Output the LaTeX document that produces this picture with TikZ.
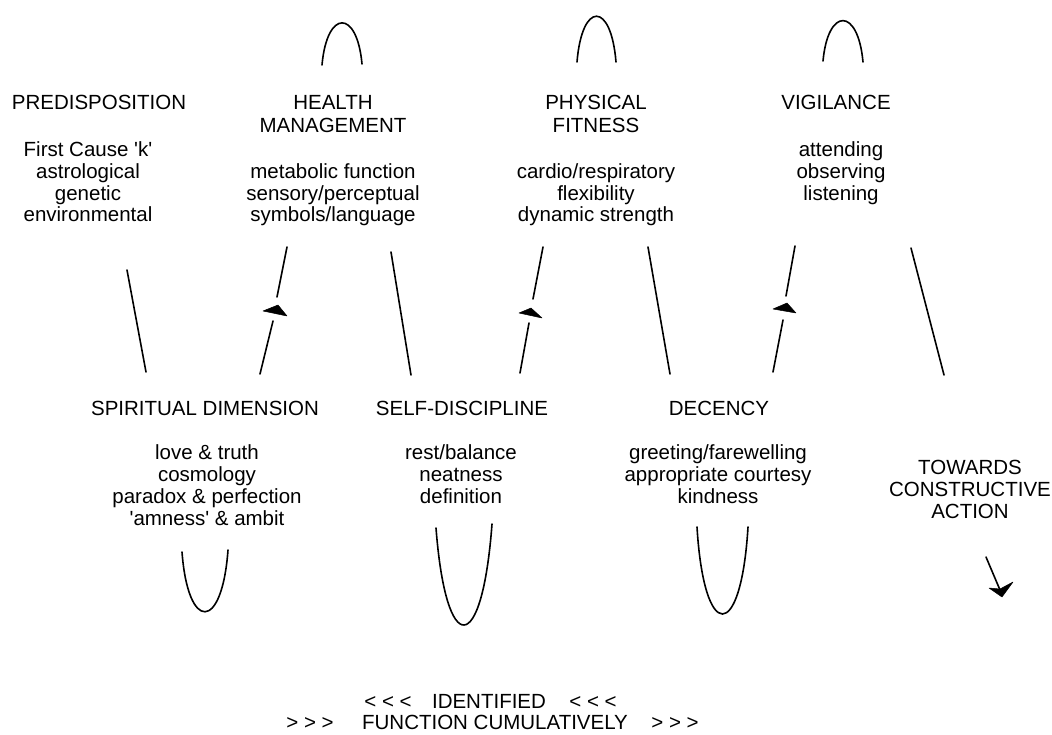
\documentclass[tikz,border=0pt]{standalone}
\usepackage{fontspec}
\setmainfont{Liberation Sans}
\newcommand\txtsz{\fontsize{20.5}{22}\selectfont}
\newcommand\sq{\textquotesingle}
\tikzset{
  lbl/.style={font=\txtsz, anchor=base, inner sep=0pt, text=black},
  wave/.style={line width=1.6pt, line cap=round, black},
  headfill/.style={fill=black, draw=black, line width=0.5pt, line join=round}
}
\begin{document}
\begin{tikzpicture}[x=1pt,y=-1pt]
\useasboundingbox (0,0) rectangle (1052,735);
% ---- top texts
\node[lbl] (pdT) at (99,110) {PREDISPOSITION};
\node[lbl] (pd1) at (88,157) {First Cause \sq k\sq};
\node[lbl] (pd2) at (88,179) {astrological};
\node[lbl] (pd3) at (88,201) {genetic};
\node[lbl] (pd4) at (88,222) {environmental};
\node[lbl] (hmT1) at (333,110) {HEALTH};
\node[lbl] (hmT2) at (333,133) {MANAGEMENT};
\node[lbl] (hm1) at (333,179) {metabolic function};
\node[lbl] (hm2) at (333,201) {sensory/perceptual};
\node[lbl] (hm3) at (333,222) {symbols/language};
\node[lbl] (pfT1) at (596,110) {PHYSICAL};
\node[lbl] (pfT2) at (596,133) {FITNESS};
\node[lbl] (pf1) at (596,179) {cardio/respiratory};
\node[lbl] (pf2) at (596,201) {flexibility};
\node[lbl] (pf3) at (596,222) {dynamic strength};
\node[lbl] (vgT) at (836,110) {VIGILANCE};
\node[lbl] (vg1) at (841,157) {attending};
\node[lbl] (vg2) at (841,179) {observing};
\node[lbl] (vg3) at (841,201) {listening};
% ---- lower texts
\node[lbl] (sdT) at (205,415) {SPIRITUAL DIMENSION};
\node[lbl] (sd1) at (207,459) {love \& truth};
\node[lbl] (sd2) at (207,481) {cosmology};
\node[lbl] (sd3) at (207,503) {paradox \& perfection};
\node[lbl] (sd4) at (207,525) {\sq amness\sq{} \& ambit};
\node[lbl] (scT) at (462,415) {SELF-DISCIPLINE};
\node[lbl] (sc1) at (461,459) {rest/balance};
\node[lbl] (sc2) at (461,481) {neatness};
\node[lbl] (sc3) at (461,503) {definition};
\node[lbl] (dcT) at (719,415) {DECENCY};
\node[lbl] (dc1) at (718,459) {greeting/farewelling};
\node[lbl] (dc2) at (718,481) {appropriate courtesy};
\node[lbl] (dc3) at (718,503) {kindness};
\node[lbl] (tw1) at (970,474) {TOWARDS};
\node[lbl] (tw2) at (970,496) {CONSTRUCTIVE};
\node[lbl] (tw3) at (970,518) {ACTION};
% ---- bottom caption
\node[lbl] (ca1) at (388,708) {< < <};
\node[lbl] (ca2) at (489,708) {IDENTIFIED};
\node[lbl] (ca3) at (593,708) {< < <};
\node[lbl] (cb1) at (310,729) {> > >};
\node[lbl] (cb2) at (495,729) {FUNCTION CUMULATIVELY};
\node[lbl] (cb3) at (675,729) {> > >};
% ---- top arches
\draw[wave] (322,65) .. controls (327,9) and (357,9) .. (362,64);
\draw[wave] (577,62) .. controls (582,1) and (611,1) .. (616,62);
\draw[wave] (823,61) .. controls (828,7) and (858,7) .. (863,62);
% ---- bottom U shapes
\draw[wave] (182,552) .. controls (188,632) and (222,632) .. (228,550);
\draw[wave] (436,528) .. controls (446,658) and (482,658) .. (492,524);
\draw[wave] (697,527) .. controls (704,643) and (741,643) .. (748,527);
% ---- strokes
\draw[wave] (127,270) -- (146,372);
\draw[wave] (287,247) -- (277,297);
\draw[wave] (273,321) -- (260,374);
\draw[wave] (391,252) -- (411,375);
\draw[wave] (543,247) -- (533,299);
\draw[wave] (529,323) -- (520,373);
\draw[wave] (648,247) -- (670,374);
\draw[wave] (795,246) -- (786,296);
\draw[wave] (783,320) -- (773,372);
\draw[wave] (911,248) -- (944,375);
\draw[wave] (986,557) -- (1000,590);
% ---- arrowheads
\filldraw[headfill] (263,311) -- (278,305) -- (287,316) -- cycle;
\filldraw[headfill] (519,313) -- (531,308) -- (542,318) -- cycle;
\filldraw[headfill] (773,309) -- (787,303) -- (796,313) -- cycle;
\filldraw[headfill] (989,588) -- (1002,597) -- (1013,582) -- (1000,589) -- cycle;
\end{tikzpicture}
\end{document}
